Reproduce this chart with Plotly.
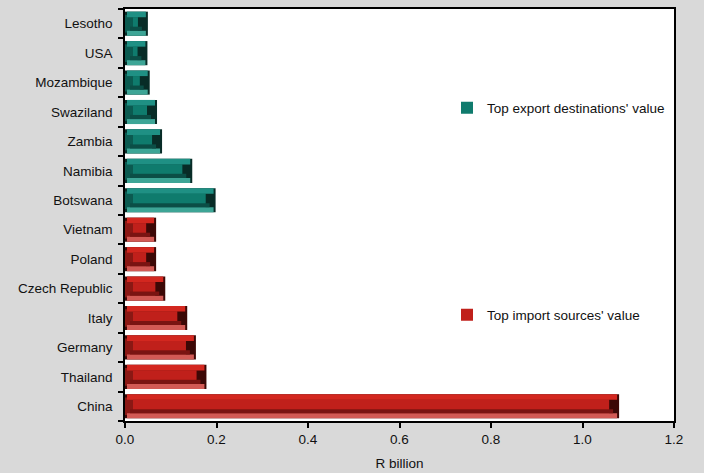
import plotly.graph_objects as go

# ---- data ----
export_countries = ["Lesotho", "USA", "Mozambique", "Swaziland", "Zambia", "Namibia", "Botswana"]
export_values = [0.050, 0.049, 0.054, 0.070, 0.081, 0.147, 0.198]
import_countries = ["Vietnam", "Poland", "Czech Republic", "Italy", "Germany", "Thailand", "China"]
import_values = [0.068, 0.068, 0.088, 0.136, 0.155, 0.178, 1.080]

# categories bottom -> top
category_order = ["China", "Thailand", "Germany", "Italy", "Czech Republic", "Poland", "Vietnam",
                  "Botswana", "Namibia", "Zambia", "Swaziland", "Mozambique", "USA", "Lesotho"]

FONT = "Liberation Sans, Arial, sans-serif"
FS = 13.5
PX_PER_UNIT = 457.5  # used only to convert bevel pixel sizes to data units

palettes = {
    "export": dict(cap="#082c27", left="#0b5a50", top="#1f9084", center="#0f7b6d",
                   bdark="#0b4e46", blight="#3da596"),
    "import": dict(cap="#3c0806", left="#8a1814", top="#d3271f", center="#c0201b",
                   bdark="#7a1412", blight="#d25a55"),
}

HALF = 0.41
# bands: (lo, hi, inset_px_right, inset_px_left, colour key)
bands = [
    (-HALF, HALF, 0, 0, "cap"),
    (-0.30, 0.30, 10, 0, "left"),
    (0.22, HALF, 2, 2, "top"),
    (-HALF, -0.24, 2, 2, "blight"),
    (-0.24, -0.10, 6, 5, "bdark"),
    (-0.10, 0.22, 10, 8, "center"),
]

fig = go.Figure()


def add_series(name, cats, vals, key, legend_id):
    pal = palettes[key]
    for lo, hi, inr, inl, ck in bands:
        r = inr / PX_PER_UNIT
        l = inl / PX_PER_UNIT
        xs = [max(v - r - l, 0) for v in vals]
        fig.add_trace(go.Bar(
            y=cats, x=xs, base=[l] * len(vals), orientation="h",
            width=hi - lo, offset=lo,
            marker=dict(color=pal[ck], line=dict(width=0)),
            name=name, showlegend=(ck == "center"), legend=legend_id,
            hoverinfo="skip" if ck != "center" else None,
        ))


add_series("Top export destinations' value", export_countries, export_values, "export", "legend")
add_series("Top import sources' value", import_countries, import_values, "import", "legend2")

plot_l, plot_r, plot_t, plot_b = 125, 674, 9, 421
W, H = 704, 473
pw, ph = plot_r - plot_l, plot_b - plot_t


def lx(px):
    return (px - plot_l) / pw


def ly(py):
    return (plot_b - py) / ph


legend_style = dict(font=dict(family=FONT, size=FS, color="#111111"), bgcolor="rgba(0,0,0,0)",
                    borderwidth=0, xanchor="left", yanchor="middle", itemwidth=30,
                    tracegroupgap=0)

fig.update_layout(
    width=W, height=H,
    margin=dict(l=plot_l, r=W - plot_r, t=plot_t, b=H - plot_b, autoexpand=False),
    paper_bgcolor="#d9d9d9", plot_bgcolor="#ffffff",
    barmode="overlay",
    font=dict(family=FONT, size=FS, color="#111111"),
    legend=dict(x=lx(447), y=ly(108), **legend_style),
    legend2=dict(x=lx(447), y=ly(315), **legend_style),
    xaxis=dict(range=[0, 1.2], dtick=0.2, tick0=0, tickformat=".1f",
               showgrid=False, zeroline=False, showline=True, mirror=True,
               linecolor="#000000", linewidth=1.5, ticks="outside", ticklen=5,
               tickcolor="#000000", tickwidth=1.5, automargin=False,
               title=dict(text="R billion", standoff=13, font=dict(family=FONT, size=FS)),
               tickfont=dict(family=FONT, size=FS)),
    yaxis=dict(categoryorder="array", categoryarray=category_order,
               range=[-0.5, len(category_order) - 0.5],
               showgrid=False, zeroline=False, showline=True, mirror=True,
               linecolor="#000000", linewidth=1.5, ticks="outside", ticklen=5,
               tickcolor="#000000", tickwidth=1.5, tickson="boundaries",
               ticklabelstandoff=8, automargin=False,
               tickfont=dict(family=FONT, size=FS)),
)

fig.write_html("out.html", config={"displayModeBar": False},
               post_script="document.body.style.margin='0';document.body.style.overflow='hidden';")
